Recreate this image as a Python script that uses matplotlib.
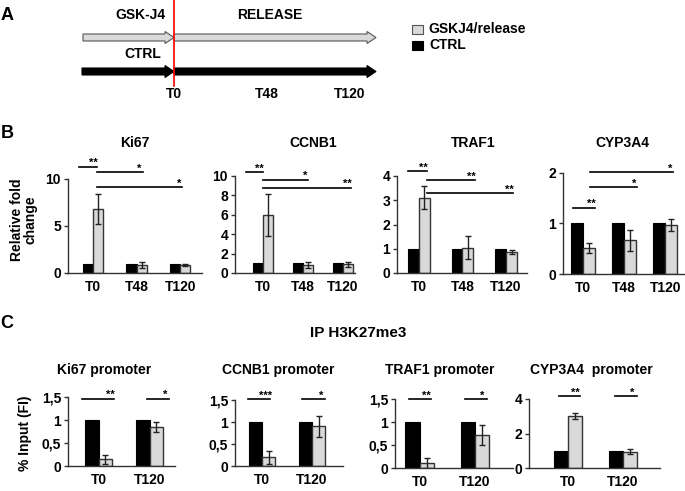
import numpy as np
import matplotlib
matplotlib.use('Agg')
import matplotlib.pyplot as plt
from matplotlib.patches import FancyArrow, Rectangle

plt.rcParams['font.family'] = ['Liberation Sans', 'DejaVu Sans']
plt.rcParams['font.weight'] = 'bold'

W, H = 685, 491

# --- data (B: relative fold change) ---
times_b = ['T0', 'T48', 'T120']
ki67_ctrl = [1, 1, 1]
ki67_gsk = [6.8, 0.85, 0.85]
ki67_err = [1.6, 0.28, 0.15]
ccnb1_ctrl = [1, 1, 1]
ccnb1_gsk = [6.0, 0.8, 0.9]
ccnb1_err = [2.15, 0.3, 0.25]
traf1_ctrl = [1, 1, 1]
traf1_gsk = [3.1, 1.05, 0.87]
traf1_err = [0.48, 0.47, 0.07]
cyp_ctrl = [1, 1, 1]
cyp_gsk = [0.52, 0.67, 0.97]
cyp_err = [0.1, 0.21, 0.11]

# --- data (C: IP H3K27me3, % input) ---
times_c = ['T0', 'T120']
ki67p_ctrl = [1, 1]
ki67p_gsk = [0.15, 0.85]
ki67p_err = [0.1, 0.11]
ccnb1p_ctrl = [1, 1]
ccnb1p_gsk = [0.2, 0.9]
ccnb1p_err = [0.15, 0.24]
traf1p_ctrl = [1, 1]
traf1p_gsk = [0.11, 0.72]
traf1p_err = [0.11, 0.22]
cypp_ctrl = [1, 1]
cypp_gsk = [3.0, 0.95]
cypp_err = [0.18, 0.13]

GRAY = '#d9d9d9'

fig = plt.figure(figsize=(W / 100, H / 100), dpi=100)

# overlay in pixel coords for schematic + labels
ov = fig.add_axes([0, 0, 1, 1])
ov.set_xlim(0, W)
ov.set_ylim(H, 0)
ov.axis('off')
ov.patch.set_alpha(0)


def add_ax(left, right, top, bottom):
    return fig.add_axes([left / W, 1 - bottom / H, (right - left) / W, (bottom - top) / H])


def fmt(v):
    return ('%g' % v).replace('.', ',')


def bar_panel(ax, times, ctrl, gsk, err, w, xlim, ylim, yticks, sigs):
    x = np.arange(len(times))
    ax.bar(x - w / 2, ctrl, w, color='black', edgecolor='black', linewidth=0.8)
    ax.bar(x + w / 2, gsk, w, color=GRAY, edgecolor='#333333', linewidth=1,
           yerr=err, error_kw=dict(ecolor='#222222', elinewidth=1, capsize=2.5, capthick=1))
    ax.set_xlim(*xlim)
    ax.set_ylim(*ylim)
    ax.set_yticks(yticks)
    ax.set_yticklabels([fmt(v) for v in yticks], fontsize=10, fontweight='bold')
    ax.set_xticks(x)
    ax.set_xticklabels(times, fontsize=10, fontweight='bold')
    ax.tick_params(axis='x', length=0, pad=5)
    ax.tick_params(axis='y', length=3, width=1, direction='out', pad=2, color='#333333')
    for s in ['top', 'right']:
        ax.spines[s].set_visible(False)
    for s in ['left', 'bottom']:
        ax.spines[s].set_linewidth(1)
        ax.spines[s].set_color('#333333')
    for x1, x2, y, lab in sigs:
        ax.plot([x1, x2], [y, y], color='black', lw=1.2, clip_on=False)
        ax.annotate(lab, (x2 - 0.08, y), xytext=(0, -1), textcoords='offset points',
                    ha='center', va='bottom', fontsize=8, fontweight='bold',
                    annotation_clip=False)


# ---------------- panel B ----------------
ax = add_ax(68, 202, 179, 273)
bar_panel(ax, times_b, ki67_ctrl, ki67_gsk, ki67_err, 0.23, (-0.57, 2.5), (0, 10), [0, 5, 10],
          [(-0.32, 0.09, 11.3, '**'), (0.09, 1.15, 10.7, '*'), (0.09, 2.05, 9.1, '*')])

ax = add_ax(235, 355, 176, 273)
bar_panel(ax, times_b, ccnb1_ctrl, ccnb1_gsk, ccnb1_err, 0.25, (-0.7, 2.3), (0, 10), [0, 2, 4, 6, 8, 10],
          [(-0.43, 0.0, 10.4, '**'), (0.0, 1.13, 9.6, '*'), (0.0, 2.2, 8.8, '**')])

ax = add_ax(397, 527, 176, 273)
bar_panel(ax, times_b, traf1_ctrl, traf1_gsk, traf1_err, 0.25, (-0.5, 2.48), (0, 4), [0, 1, 2, 3, 4],
          [(-0.25, 0.18, 4.2, '**'), (0.18, 1.29, 3.83, '**'), (0.18, 2.16, 3.3, '**')])

ax = add_ax(563, 684, 173, 274)
bar_panel(ax, times_b, cyp_ctrl, cyp_gsk, cyp_err, 0.3, (-0.49, 2.46), (0, 2), [0, 1, 2],
          [(0.17, 2.2, 2.02, '*'), (0.17, 1.32, 1.72, '*'), (-0.24, 0.29, 1.31, '**')])

# ---------------- panel C ----------------
ax = add_ax(68, 175, 397, 466)
bar_panel(ax, times_c, ki67p_ctrl, ki67p_gsk, ki67p_err, 0.26, (-0.6, 1.5), (0, 1.5), [0, 0.5, 1, 1.5],
          [(-0.33, 0.31, 1.46, '**'), (0.96, 1.39, 1.46, '*')])

ax = add_ax(235, 343, 400, 466)
bar_panel(ax, times_c, ccnb1p_ctrl, ccnb1p_gsk, ccnb1p_err, 0.26, (-0.54, 1.62), (0, 1.5), [0, 0.5, 1, 1.5],
          [(-0.28, 0.16, 1.52, '***'), (0.8, 1.26, 1.52, '*')])

ax = add_ax(395, 513, 399, 468)
bar_panel(ax, times_c, traf1p_ctrl, traf1p_gsk, traf1p_err, 0.26, (-0.45, 1.69), (0, 1.5), [0, 0.5, 1, 1.5],
          [(-0.2, 0.2, 1.5, '**'), (0.82, 1.22, 1.5, '*')])

ax = add_ax(529, 660, 399, 468)
bar_panel(ax, times_c, cypp_ctrl, cypp_gsk, cypp_err, 0.26, (-0.71, 1.67), (0, 4), [0, 2, 4],
          [(-0.16, 0.22, 4.17, '**'), (0.85, 1.25, 4.17, '*')])

# panel titles
tt = dict(fontsize=10, fontweight='bold', ha='center', va='center')
for name, xc in [('Ki67', 135), ('CCNB1', 313), ('TRAF1', 473), ('CYP3A4', 622)]:
    ov.text(xc, 143, name, **tt)
for name, xc in [('Ki67 promoter', 104), ('CCNB1 promoter', 278),
                 ('TRAF1 promoter', 440), ('CYP3A4  promoter', 591)]:
    ov.text(xc, 370, name, **tt)

# ---------------- panel A (schematic) ----------------
kw = dict(width=7, head_width=12, head_length=9, length_includes_head=True, lw=0.8)
ov.add_patch(FancyArrow(83, 37.5, 91, 0, fc=GRAY, ec='#555555', **kw))
ov.add_patch(FancyArrow(174, 37.5, 202, 0, fc=GRAY, ec='#555555', **kw))
ov.add_patch(FancyArrow(82, 71.5, 92, 0, fc='black', ec='black', **kw))
ov.add_patch(FancyArrow(174, 71.5, 202, 0, fc='black', ec='black', **kw))
ov.plot([174, 174], [0, 86], color='red', lw=1.2)

tk = dict(fontsize=10, fontweight='bold', ha='center', va='center')
ov.text(140, 15, 'GSK-J4', **tk)
ov.text(270, 15, 'RELEASE', **tk)
ov.text(143, 54, 'CTRL', **tk)
ov.text(174, 94, 'T0', **tk)
ov.text(267, 94, 'T48', **tk)
ov.text(350, 94, 'T120', **tk)

ov.add_patch(Rectangle((412, 24.5), 11, 9, fc=GRAY, ec='#555555', lw=0.8))
ov.add_patch(Rectangle((412, 40.5), 11, 9, fc='black', ec='black', lw=0.8))
ov.text(428, 29, 'GSKJ4/release', fontsize=10, fontweight='bold', ha='left', va='center')
ov.text(429, 45, 'CTRL', fontsize=10, fontweight='bold', ha='left', va='center')

# panel letters, shared labels
for lab, y in [('A', 15), ('B', 133), ('C', 323)]:
    ov.text(7, y, lab, fontsize=13, fontweight='bold', ha='center', va='center')
ov.text(358, 333, 'IP H3K27me3', fontsize=11, fontweight='bold', ha='center', va='center')
ov.text(24, 220, 'Relative fold\nchange', fontsize=10, fontweight='bold', rotation=90,
        ha='center', va='center', multialignment='center', linespacing=1.0)
ov.text(25, 433, '% Input (FI)', fontsize=10, fontweight='bold', rotation=90, ha='center', va='center')

fig.savefig('out.png', dpi=100)
